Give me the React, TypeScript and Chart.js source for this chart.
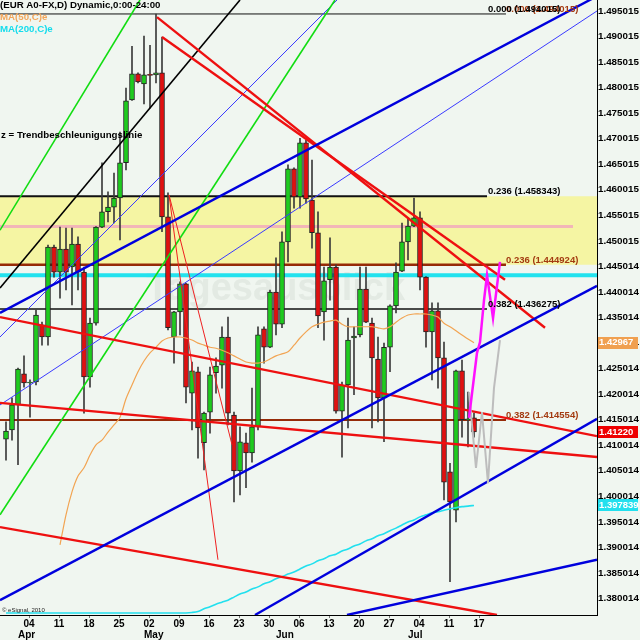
import React, { useEffect, useRef } from "react";
import { Chart, registerables } from "chart.js";

Chart.register(...registerables);

const BG = "#f0f6f0";
const FONT = "'Liberation Sans', Arial, sans-serif";

// ---- Daily candles (bar index 0 = first visible bar) ----
const opens = [
  1.4108, 1.4126, 1.4175, 1.4236, 1.4218, 1.422, 1.4332, 1.4308, 1.4484, 1.4435,
  1.448, 1.4445, 1.449, 1.4435, 1.423, 1.4335, 1.4523, 1.4553, 1.4562, 1.458,
  1.4649, 1.4772, 1.4823, 1.4803, 1.4821, 1.4821, 1.4825, 1.4543, 1.4308, 1.4357,
  1.4412, 1.4198, 1.424, 1.4101, 1.4161, 1.4238, 1.4253, 1.4308, 1.4155, 1.4046,
  1.4101, 1.4081, 1.4132, 1.4324, 1.4288, 1.4396, 1.4333, 1.4494, 1.4637, 1.4582,
  1.4688, 1.4576, 1.4512, 1.4357, 1.442, 1.4445, 1.4163, 1.4214, 1.4306, 1.4312,
  1.4402, 1.4335, 1.4265, 1.4189, 1.4288, 1.4369, 1.4437, 1.4494, 1.4525, 1.4541,
  1.4425, 1.4318, 1.4359, 1.4267, 1.4044, 1.3969, 1.4242, 1.4146, 1.415,
];
const closes = [
  1.4124, 1.4175, 1.4245, 1.4218, 1.422, 1.4351, 1.4308, 1.4484, 1.4435, 1.448,
  1.4435, 1.449, 1.4435, 1.423, 1.4335, 1.4523, 1.4553, 1.4562, 1.458, 1.4649,
  1.477, 1.4823, 1.4807, 1.4821, 1.482, 1.4825, 1.4543, 1.4326, 1.4357, 1.4412,
  1.421, 1.4242, 1.413, 1.4159, 1.4234, 1.4251, 1.4308, 1.4159, 1.4046, 1.4103,
  1.4081, 1.4132, 1.4312, 1.4288, 1.4396, 1.4333, 1.4494, 1.4637, 1.4582, 1.4688,
  1.4578, 1.4512, 1.4349, 1.4418, 1.4445, 1.4163, 1.4214, 1.4302, 1.431, 1.4402,
  1.4337, 1.4267, 1.4189, 1.4288, 1.4369, 1.4435, 1.4494, 1.4525, 1.4541, 1.4425,
  1.4318, 1.4359, 1.4267, 1.4024, 1.3985, 1.4242, 1.4146, 1.4148, 1.4122,
];
const highs = [
  1.4142, 1.4189, 1.4247, 1.4271, 1.4224, 1.4361, 1.4337, 1.4488, 1.4488, 1.4523,
  1.4521, 1.4521, 1.4504, 1.4445, 1.4345, 1.4524, 1.4649, 1.4592, 1.4629, 1.4709,
  1.4795, 1.4877, 1.4825, 1.4897, 1.4879, 1.494, 1.4895, 1.459, 1.4358, 1.4416,
  1.4413, 1.4259, 1.4249, 1.4161, 1.4249, 1.4267, 1.4328, 1.4347, 1.4161, 1.4132,
  1.412, 1.4208, 1.4328, 1.4328, 1.44, 1.4463, 1.4514, 1.4645, 1.4639, 1.4697,
  1.4693, 1.4654, 1.4553, 1.4445, 1.4502, 1.4449, 1.422, 1.4345, 1.4328, 1.4445,
  1.4445, 1.4345, 1.4308, 1.4296, 1.4371, 1.4453, 1.4531, 1.4541, 1.458, 1.4553,
  1.4426, 1.4375, 1.4375, 1.4298, 1.4061, 1.4243, 1.4263, 1.42, 1.4159,
];
const lows = [
  1.4067, 1.4106, 1.4058, 1.421, 1.4151, 1.4214, 1.4292, 1.4292, 1.4425, 1.4384,
  1.44, 1.4371, 1.44, 1.4159, 1.421, 1.4331, 1.4522, 1.4533, 1.4531, 1.4498,
  1.4635, 1.4771, 1.4805, 1.4764, 1.4756, 1.4805, 1.4514, 1.4322, 1.4257, 1.4312,
  1.4179, 1.4126, 1.4071, 1.4048, 1.412, 1.4198, 1.4208, 1.4136, 1.3985, 1.3999,
  1.4013, 1.4063, 1.4126, 1.4257, 1.4287, 1.4312, 1.4326, 1.4455, 1.456, 1.456,
  1.457, 1.4482, 1.4326, 1.4302, 1.438, 1.4159, 1.4073, 1.413, 1.4195, 1.4308,
  1.4336, 1.413, 1.4142, 1.4103, 1.424, 1.4355, 1.4436, 1.4459, 1.4524, 1.44,
  1.4288, 1.4224, 1.4208, 1.3989, 1.3829, 1.3946, 1.4112, 1.4093, 1.4112,
];

// ---- Moving averages (null = not visible) ----
const ma50 = [
  null, null, null, null, null, null, null, null, null, 1.3901,
  1.396, 1.4005, 1.4036, 1.4052, 1.4077, 1.4097, 1.4106, 1.4122, 1.4136, 1.4151,
  1.4187, 1.4214, 1.424, 1.4261, 1.4277, 1.4288, 1.43, 1.4306, 1.4308, 1.4308,
  1.4306, 1.4302, 1.4296, 1.4292, 1.4288, 1.4286, 1.4282, 1.4277, 1.4271, 1.4265,
  1.4259, 1.4257, 1.4257, 1.4259, 1.4265, 1.4271, 1.4275, 1.4279, 1.4292, 1.4306,
  1.4318, 1.4328, 1.4333, 1.4337, 1.4339, 1.4341, 1.4333, 1.4328, 1.4328, 1.4328,
  1.4328, 1.4328, 1.4326, 1.4324, 1.4328, 1.4337, 1.4345, 1.4351, 1.4353, 1.4353,
  1.4353, 1.4351, 1.4347, 1.4335, 1.4328, 1.432, 1.4312, 1.4304, 1.42967,
];
const ma200 = [
  1.3768, 1.3768, 1.3768, 1.3768, 1.3768, 1.3768, 1.3768, 1.3768, 1.3768, 1.3768,
  1.3768, 1.3768, 1.3768, 1.3768, 1.3768, 1.3768, 1.3768, 1.3768, 1.3768, 1.3768,
  1.3768, 1.3768, 1.3768, 1.3768, 1.3768, 1.3768, 1.3768, 1.3768, 1.3768, 1.3768,
  1.3768, 1.3769, 1.3771, 1.3776, 1.378, 1.3785, 1.3789, 1.3793, 1.3799, 1.3805,
  1.3809, 1.3815, 1.3819, 1.3825, 1.3829, 1.3835, 1.3839, 1.3844, 1.3848, 1.3854,
  1.386, 1.3864, 1.387, 1.3874, 1.388, 1.3883, 1.3889, 1.3893, 1.3899, 1.3903,
  1.3909, 1.3913, 1.3919, 1.3923, 1.3929, 1.3934, 1.394, 1.3946, 1.395, 1.3956,
  1.396, 1.3964, 1.3966, 1.3969, 1.3972, 1.3974, 1.3976, 1.3977, 1.397839,
];

// ---- Axes ----
const xRange = [-1, 98.5];
const yRange = [1.376395, 1.496747];
const weekTickIdx = [3.85, 8.85, 13.85, 18.85, 23.85, 28.85, 33.85, 38.85, 43.85, 48.85, 53.85, 58.85, 63.85, 68.85, 73.85, 78.85];
const weekTickLabels = ["04", "11", "18", "25", "02", "09", "16", "23", "30", "06", "13", "20", "27", "04", "11", "17"];
const monthTickIdx = [2, 23, 45, 67];
const monthTickLabels = ["Apr", "May", "Jun", "Jul"];
const yTickValues = [
  1.380014, 1.385014, 1.390014, 1.395014, 1.400014, 1.405014, 1.410014, 1.415014,
  1.420014, 1.425014, 1.430014, 1.435014, 1.440014, 1.445014, 1.450015, 1.455015,
  1.460015, 1.465015, 1.470015, 1.475015, 1.480015, 1.485015, 1.490015, 1.495015,
];
const yTickLabels = [
  "1.380014", "1.385014", "1.390014", "1.395014", "1.400014", "1.405014", "1.410014", "1.415014",
  "1.420014", "1.425014", "1.430014", "1.435014", "1.440014", "1.445014", "1.450015", "1.455015",
  "1.460015", "1.465015", "1.470015", "1.475015", "1.480015", "1.485015", "1.490015", "1.495015",
];

// ---- Drawing-tool levels ----
const fibBlackLevels = [1.494015, 1.458343, 1.436275];
const fibBlackLabels = ["0.000 (1.494015)", "0.236 (1.458343)", "0.382 (1.436275)"];
const fibBlackEnd = 80.17;
const fibBrownLevels = [1.494015, 1.444924, 1.414554];
const fibBrownLabels = ["0.000 (1.494015)", "0.236 (1.444924)", "0.382 (1.414554)"];
const fibBrownEnd = 83.33;
const bandLevels = [1.458343, 1.444924];
const cyanLevel = 1.4429;
const pinkLevel = 1.4524;
const pinkEnd = 94.5;

const blueThick = [
  [[-1, 1.4355], [98.5, 1.4975]],
  [[-1, 1.3793], [98.5, 1.4408]],
  [[41.5, 1.3764], [98.5, 1.4148]],
  [[56.83, 1.3764], [98.5, 1.3872]],
];
const blueThin = [
  [[-1, 1.4308], [55.17, 1.49675]],
  [[-1, 1.4175], [98.5, 1.4946]],
];
const greenLines = [
  [[-1, 1.4517], [22.33, 1.49675]],
  [[-1, 1.396], [54.83, 1.49675]],
];
const blackTrend = [[-1, 1.4404], [39, 1.49675]];
const redThick = [
  [[25.17, 1.4934], [89.83, 1.4326]],
  [[26, 1.4895], [83.17, 1.442]],
  [[-1, 1.4347], [98.5, 1.4114]],
  [[-1, 1.4179], [98.5, 1.4073]],
  [[-1, 1.3936], [81.83, 1.3764]],
];
const redThin = [
  [[27.17, 1.4586], [37.67, 1.4097]],
  [[27.17, 1.4586], [35.33, 1.3872]],
];
const magentaX = [77.17, 78.5, 79, 79.67, 80.17, 81.17, 82.33];
const magentaY = [1.415, 1.4277, 1.4298, 1.438, 1.4429, 1.4345, 1.4455];
const grayX = [77.17, 78.33, 79.33, 80.33, 81.33, 82.33];
const grayY = [1.42, 1.4052, 1.4161, 1.4022, 1.4208, 1.4302];

const GREEN = "#1ecb1e";
const RED = "#e01010";

function seg(points: number[][]) {
  return points.map((p) => ({ x: p[0], y: p[1] }));
}

function lineDs(points: number[][], color: string, width: number, order: number, extra: any = {}) {
  return {
    type: "line",
    data: seg(points),
    borderColor: color,
    borderWidth: width,
    pointRadius: 0,
    fill: false,
    tension: 0,
    order,
    ...extra,
  };
}

function fixSize(prop: "width" | "height", size: number) {
  return (scale: any) => {
    scale[prop] = size;
    scale.paddingLeft = 0;
    scale.paddingRight = 0;
    scale.paddingTop = 0;
    scale.paddingBottom = 0;
  };
}

const overlay = {
  id: "overlay",
  beforeDatasetsDraw(chart: any) {
    const { ctx } = chart;
    ctx.save();
    ctx.font = `bold 38px ${FONT}`;
    ctx.fillStyle = "rgba(150,165,150,0.14)";
    ctx.textBaseline = "alphabetic";
    ctx.textAlign = "left";
    ctx.fillText("Tagesausblick", 146, 300);
    ctx.restore();
  },
  afterDatasetsDraw(chart: any) {
    const { ctx, scales } = chart;
    const x = scales.x;
    const y = scales.y;
    ctx.save();
    ctx.textBaseline = "bottom";
    ctx.textAlign = "left";
    ctx.font = `bold 9.5px ${FONT}`;
    fibBrownLevels.forEach((lv, i) => {
      ctx.fillStyle = "#a33a10";
      ctx.fillText(fibBrownLabels[i], x.getPixelForValue(fibBrownEnd), y.getPixelForValue(lv));
    });
    fibBlackLevels.forEach((lv, i) => {
      ctx.fillStyle = "#000";
      ctx.fillText(fibBlackLabels[i], x.getPixelForValue(fibBlackEnd) + 1, y.getPixelForValue(lv));
    });
    ctx.textBaseline = "middle";
    ctx.font = `bold 9.7px ${FONT}`;
    ctx.fillStyle = "#000";
    ctx.fillText("(EUR A0-FX,D) Dynamic,0:00-24:00", 0, 5);
    ctx.fillStyle = "#f2a65a";
    ctx.fillText("MA(50,C)e", 0, 17);
    ctx.fillStyle = "#14dcec";
    ctx.fillText("MA(200,C)e", 0, 29);
    ctx.fillStyle = "#000";
    ctx.fillText("z = Trendbeschleunigungslinie", 1, 135);
    ctx.font = `6px ${FONT}`;
    ctx.fillStyle = "#222";
    ctx.fillText("© eSignal, 2010", 2, 610);
    ctx.restore();
  },
  afterDraw(chart: any) {
    const { ctx, scales } = chart;
    const y = scales.y;
    const boxes = [
      { v: ma50[ma50.length - 1] as number, text: "1.42967", bg: "#f0a050" },
      { v: closes[closes.length - 1], text: "1.41220", bg: "#ee0000" },
      { v: ma200[ma200.length - 1], text: "1.397839", bg: "#22e0ee" },
    ];
    ctx.save();
    ctx.font = `bold 9.5px ${FONT}`;
    ctx.textBaseline = "middle";
    ctx.textAlign = "left";
    boxes.forEach((b) => {
      const py = y.getPixelForValue(b.v);
      ctx.fillStyle = b.bg;
      ctx.fillRect(598, Math.round(py) - 6, 40, 12);
      ctx.fillStyle = "#fff";
      ctx.fillText(b.text, 599, py);
    });
    ctx.restore();
  },
};

export default function App() {
  const canvasRef = useRef<HTMLCanvasElement | null>(null);

  useEffect(() => {
    document.body.style.margin = "0";
    document.body.style.background = BG;
    const canvas = canvasRef.current;
    if (!canvas) return;

    const idx = opens.map((_, i) => i);
    const datasets: any[] = [];

    // yellow band
    datasets.push({
      type: "line",
      data: seg([[xRange[0], bandLevels[0]], [xRange[1], bandLevels[0]]]),
      borderWidth: 0,
      pointRadius: 0,
      backgroundColor: "#f5f5a3",
      fill: { value: bandLevels[1] },
      order: 100,
    });
    // horizontal levels
    datasets.push(lineDs([[xRange[0], pinkLevel], [pinkEnd, pinkLevel]], "#f2b6b8", 3, 95));
    datasets.push(lineDs([[xRange[0], cyanLevel], [xRange[1], cyanLevel]], "#22e2ee", 4, 95));
    datasets.push(lineDs([[xRange[0], fibBrownLevels[1]], [fibBrownEnd, fibBrownLevels[1]]], "#962a08", 2.5, 94));
    datasets.push(lineDs([[xRange[0], fibBrownLevels[2]], [fibBrownEnd, fibBrownLevels[2]]], "#962a08", 2, 94));
    datasets.push(lineDs([[xRange[0], fibBlackLevels[0]], [fibBrownEnd, fibBlackLevels[0]]], "#111", 1, 93));
    datasets.push(lineDs([[xRange[0], fibBlackLevels[1]], [fibBlackEnd, fibBlackLevels[1]]], "#111", 1.8, 93));
    datasets.push(lineDs([[xRange[0], fibBlackLevels[2]], [fibBlackEnd, fibBlackLevels[2]]], "#111", 1.3, 93));

    // candles
    datasets.push({
      type: "bar",
      data: idx.map((i) => ({ x: i, y: [lows[i], highs[i]] })),
      backgroundColor: "#3a3a3a",
      barThickness: 1,
      grouped: false,
      order: 50,
    });
    datasets.push({
      type: "bar",
      data: idx.map((i) => ({ x: i, y: [opens[i], closes[i]] })),
      backgroundColor: idx.map((i) => (closes[i] >= opens[i] ? GREEN : RED)),
      borderColor: "#222",
      borderWidth: 1,
      borderSkipped: false,
      barThickness: 5,
      minBarLength: 1,
      grouped: false,
      order: 45,
    });

    // moving averages
    datasets.push({
      type: "line",
      data: idx.filter((i) => ma50[i] !== null).map((i) => ({ x: i, y: ma50[i] })),
      borderColor: "#f2a452",
      borderWidth: 1.2,
      pointRadius: 0,
      fill: false,
      tension: 0.3,
      order: 40,
    });
    datasets.push({
      type: "line",
      data: idx.map((i) => ({ x: i, y: ma200[i] })),
      borderColor: "#22e0ee",
      borderWidth: 1.6,
      pointRadius: 0,
      fill: false,
      tension: 0.3,
      order: 40,
    });

    // trend lines
    redThin.forEach((l) => datasets.push(lineDs(l, "#ee2020", 1, 30)));
    greenLines.forEach((l) => datasets.push(lineDs(l, "#11dd11", 1.6, 30)));
    blueThin.forEach((l) => datasets.push(lineDs(l, "#3a3aff", 1, 30)));
    datasets.push(lineDs(blackTrend, "#000", 1.6, 30));
    blueThick.forEach((l) => datasets.push(lineDs(l, "#0000dd", 2.4, 25)));
    redThick.forEach((l) => datasets.push(lineDs(l, "#ee1010", 2.4, 25)));

    // projections
    datasets.push(lineDs(grayX.map((v, i) => [v, grayY[i]]), "#bdbdbd", 2, 10));
    datasets.push(lineDs(magentaX.map((v, i) => [v, magentaY[i]]), "#ff10ff", 2.5, 9));

    const chart = new Chart(canvas, {
      type: "bar",
      data: { datasets },
      plugins: [overlay],
      options: {
        animation: false,
        responsive: false,
        devicePixelRatio: 1,
        events: [],
        layout: { padding: 0 },
        plugins: { legend: { display: false }, tooltip: { enabled: false }, title: { display: false } },
        scales: {
          x: {
            type: "linear",
            position: "bottom",
            weight: 1,
            min: xRange[0],
            max: xRange[1],
            offset: false,
            grid: { display: true, drawOnChartArea: false, drawTicks: true, tickLength: 3, color: "#777", offset: false },
            border: { display: true, color: "#000", width: 1 },
            ticks: {
              autoSkip: false,
              maxRotation: 0,
              padding: 0,
              color: "#000",
              font: { family: FONT, size: 10, weight: "bold" },
              callback: (_v: any, i: number) => weekTickLabels[i],
            },
            afterBuildTicks: (s: any) => {
              s.ticks = weekTickIdx.map((v) => ({ value: v }));
            },
            afterFit: fixSize("height", 14),
          },
          x2: {
            type: "linear",
            position: "bottom",
            weight: 2,
            min: xRange[0],
            max: xRange[1],
            offset: false,
            grid: { display: false, drawTicks: false, tickLength: 0 },
            border: { display: false },
            ticks: {
              autoSkip: false,
              maxRotation: 0,
              padding: 0,
              align: "start",
              color: "#000",
              font: { family: FONT, size: 10, weight: "bold" },
              callback: (_v: any, i: number) => monthTickLabels[i],
            },
            afterBuildTicks: (s: any) => {
              s.ticks = monthTickIdx.map((v) => ({ value: v }));
            },
            afterFit: fixSize("height", 11),
          },
          y: {
            type: "linear",
            position: "right",
            min: yRange[0],
            max: yRange[1],
            grid: { display: false, drawTicks: false, tickLength: 0 },
            border: { display: true, color: "#000", width: 1 },
            ticks: {
              autoSkip: false,
              padding: 1,
              labelOffset: 2,
              color: "#000",
              font: { family: FONT, size: 9.8, weight: "bold" },
              callback: (_v: any, i: number) => yTickLabels[i],
            },
            afterBuildTicks: (s: any) => {
              s.ticks = yTickValues.map((v) => ({ value: v }));
            },
            afterFit: fixSize("width", 43),
          },
        },
      } as any,
    } as any);

    return () => chart.destroy();
  }, []);

  return (
    <div style={{ width: 640, height: 640, background: BG }}>
      <canvas ref={canvasRef} width={640} height={640} style={{ display: "block", width: 640, height: 640 }} />
    </div>
  );
}
